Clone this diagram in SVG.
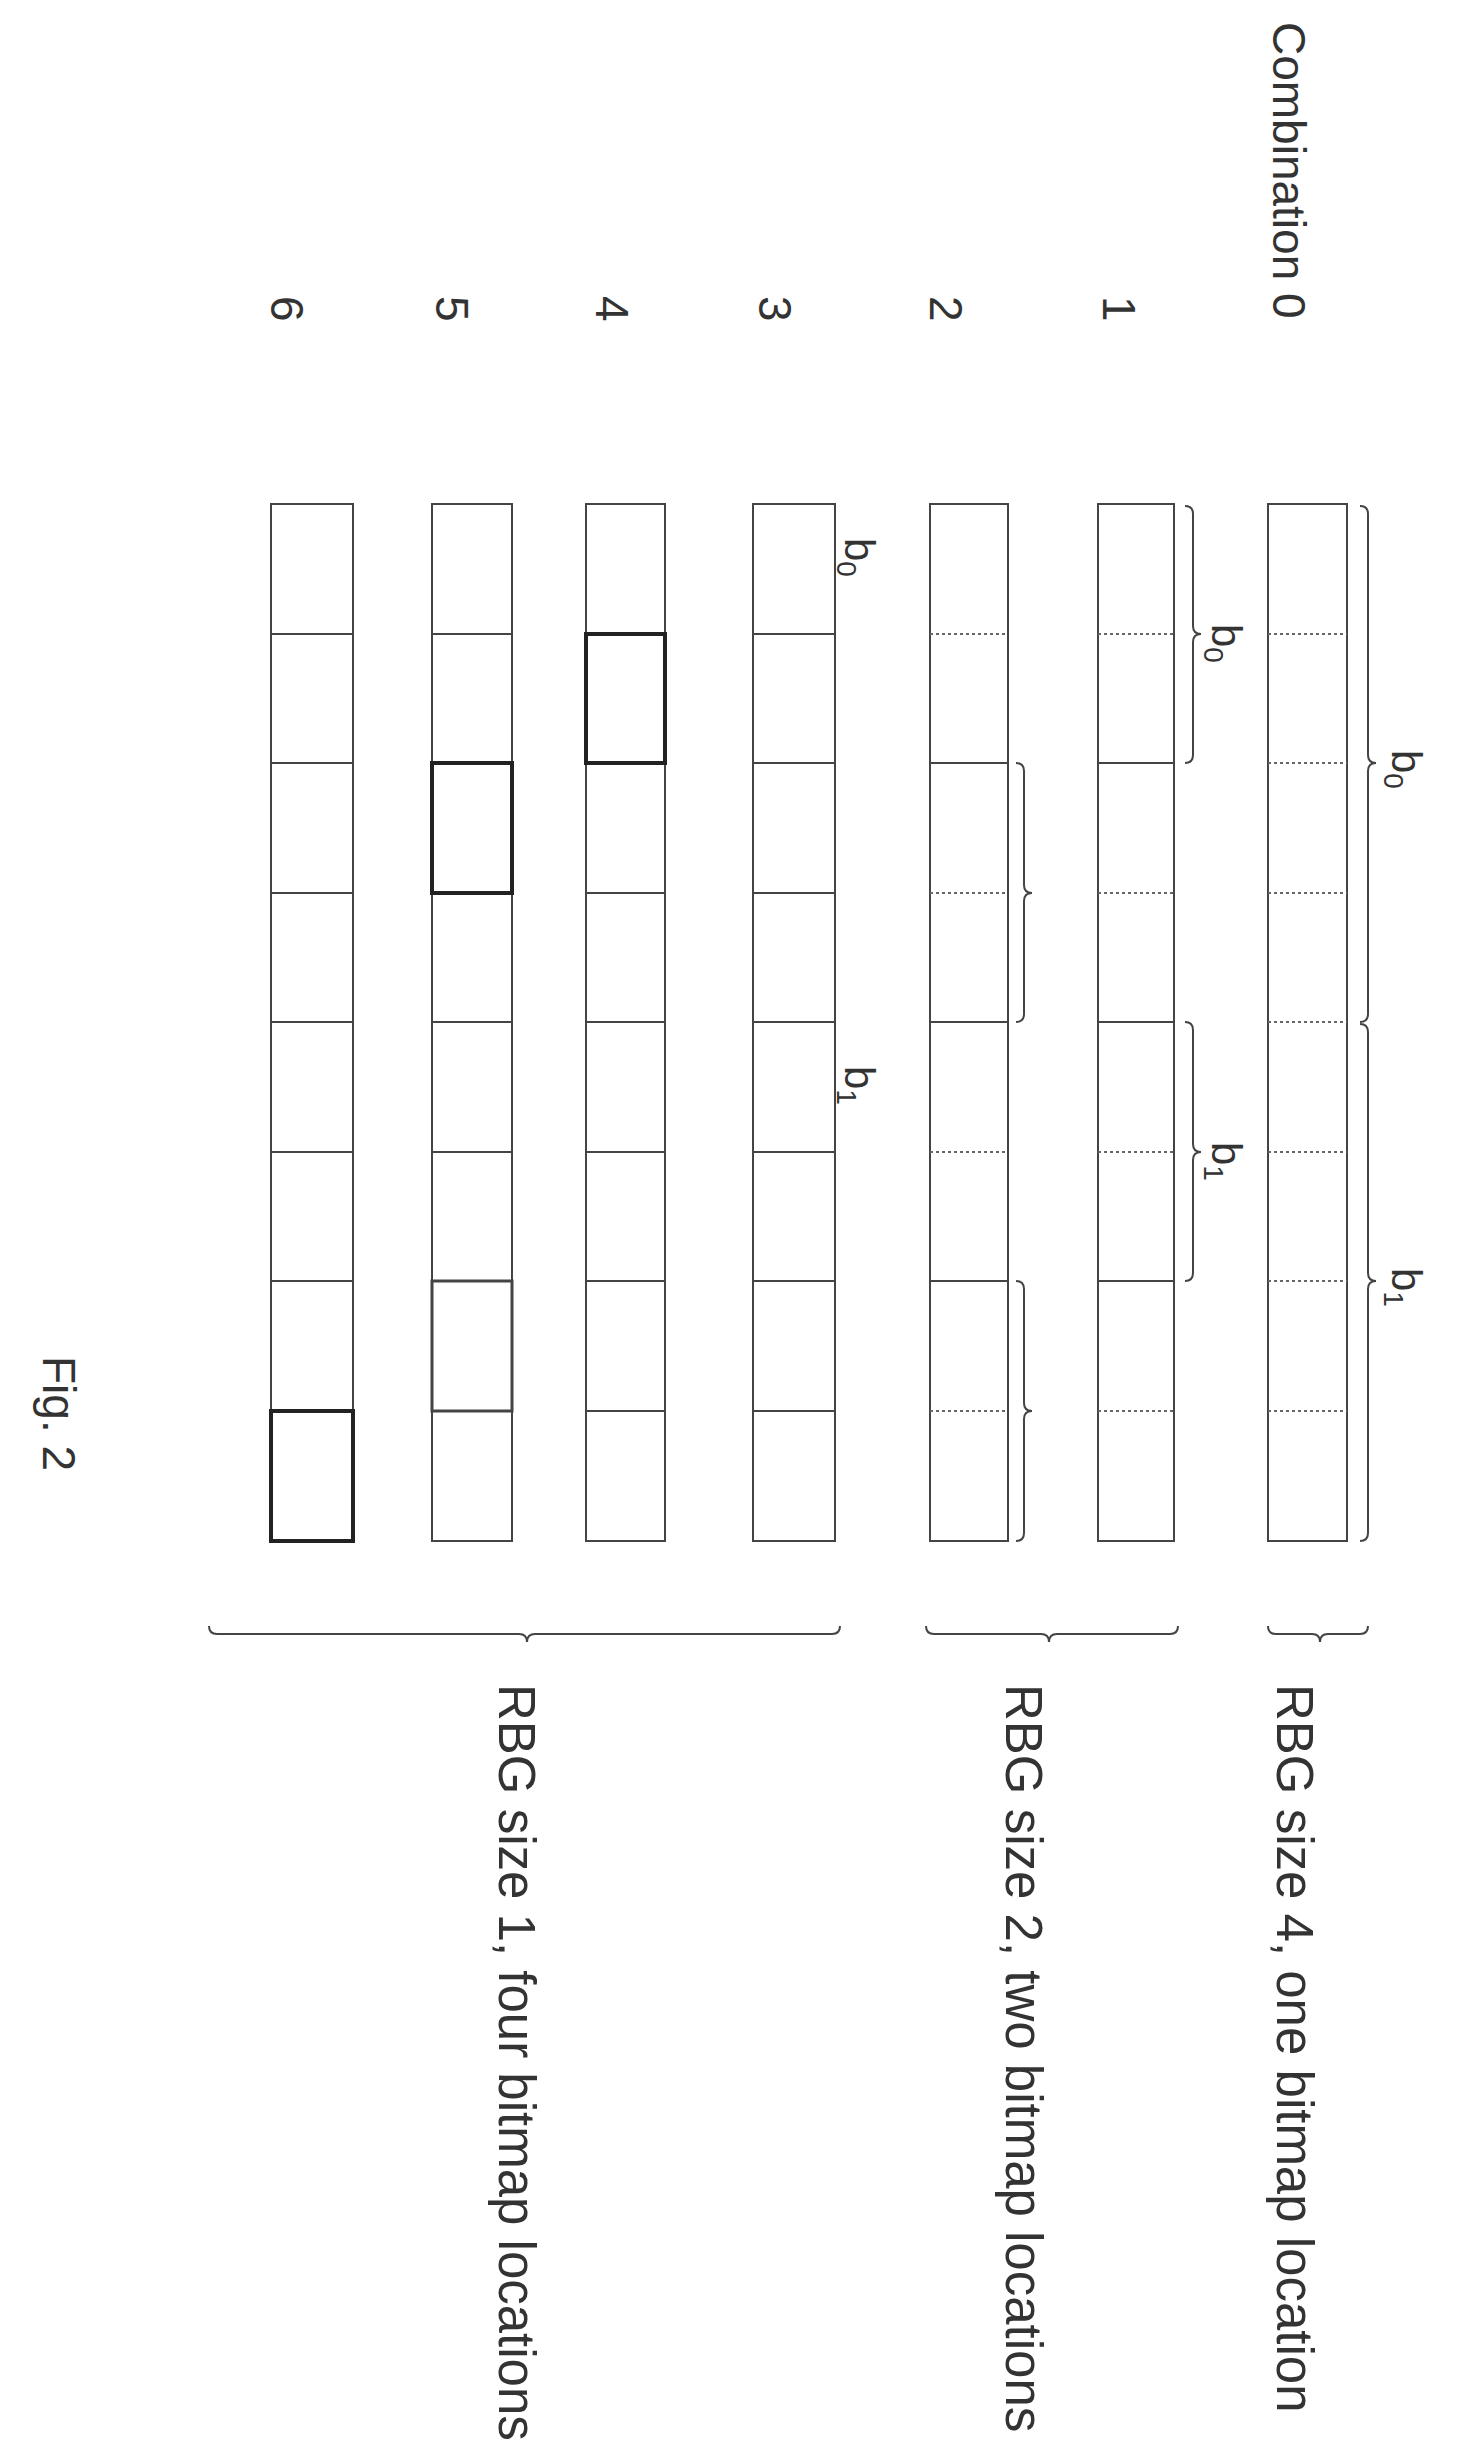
<svg xmlns="http://www.w3.org/2000/svg" width="1481" height="2454" viewBox="0 0 1481 2454">
<style>
.bar{fill:none;stroke:#444;stroke-width:2}
.sd{stroke:#444;stroke-width:2}
.dt{stroke:#666;stroke-width:2;stroke-dasharray:3 3}
.bold{fill:none;stroke:#222;stroke-width:4}
.br{fill:none;stroke:#444;stroke-width:2}
text{font-family:"Liberation Sans",Arial,sans-serif;fill:#333}
.lbl{font-size:46px}
.rbg{font-size:51px}
.b{font-size:42px}
</style>
<rect width="1481" height="2454" fill="#fff"/>
<g id="labels">
<text class="lbl" transform="translate(1273,22) rotate(90)">Combination 0</text>
<text class="lbl" transform="translate(1103,296) rotate(90)">1</text>
<text class="lbl" transform="translate(930,296) rotate(90)">2</text>
<text class="lbl" transform="translate(759,296) rotate(90)">3</text>
<text class="lbl" transform="translate(596,296) rotate(90)">4</text>
<text class="lbl" transform="translate(436,296) rotate(90)">5</text>
<text class="lbl" transform="translate(271,296) rotate(90)">6</text>
<text class="rbg" transform="translate(1277,1684) rotate(90)">RBG size 4, one bitmap location</text>
<text class="rbg" transform="translate(1006,1684) rotate(90)">RBG size 2, two bitmap locations</text>
<text class="rbg" transform="translate(499,1684) rotate(90)">RBG size 1, four bitmap locations</text>
<text class="lbl" transform="translate(43,1356) rotate(90)">Fig. 2</text>
</g>
<g id="row0">
<rect class="bar" x="1268" y="504" width="79" height="1037"/>
<line class="dt" x1="1268" y1="634" x2="1347" y2="634"/>
<line class="dt" x1="1268" y1="763" x2="1347" y2="763"/>
<line class="dt" x1="1268" y1="893" x2="1347" y2="893"/>
<line class="dt" x1="1268" y1="1022" x2="1347" y2="1022"/>
<line class="dt" x1="1268" y1="1152" x2="1347" y2="1152"/>
<line class="dt" x1="1268" y1="1281" x2="1347" y2="1281"/>
<line class="dt" x1="1268" y1="1411" x2="1347" y2="1411"/>
</g>
<g id="row1">
<rect class="bar" x="1098" y="504" width="76" height="1037"/>
<line class="dt" x1="1098" y1="634" x2="1174" y2="634"/>
<line class="sd" x1="1098" y1="763" x2="1174" y2="763"/>
<line class="dt" x1="1098" y1="893" x2="1174" y2="893"/>
<line class="sd" x1="1098" y1="1022" x2="1174" y2="1022"/>
<line class="dt" x1="1098" y1="1152" x2="1174" y2="1152"/>
<line class="sd" x1="1098" y1="1281" x2="1174" y2="1281"/>
<line class="dt" x1="1098" y1="1411" x2="1174" y2="1411"/>
</g>
<g id="row2">
<rect class="bar" x="930" y="504" width="78" height="1037"/>
<line class="dt" x1="930" y1="634" x2="1008" y2="634"/>
<line class="sd" x1="930" y1="763" x2="1008" y2="763"/>
<line class="dt" x1="930" y1="893" x2="1008" y2="893"/>
<line class="sd" x1="930" y1="1022" x2="1008" y2="1022"/>
<line class="dt" x1="930" y1="1152" x2="1008" y2="1152"/>
<line class="sd" x1="930" y1="1281" x2="1008" y2="1281"/>
<line class="dt" x1="930" y1="1411" x2="1008" y2="1411"/>
</g>
<g id="row3">
<rect class="bar" x="753" y="504" width="82" height="1037"/>
<path class="sd" d="M753 634H835M753 763H835M753 893H835M753 1022H835M753 1152H835M753 1281H835M753 1411H835"/>
</g>
<g id="row4">
<rect class="bar" x="586" y="504" width="79" height="1037"/>
<path class="sd" d="M586 634H665M586 763H665M586 893H665M586 1022H665M586 1152H665M586 1281H665M586 1411H665"/>
<rect class="bold" x="586" y="634" width="79" height="129"/>
</g>
<g id="row5">
<rect class="bar" x="432" y="504" width="80" height="1037"/>
<path class="sd" d="M432 634H512M432 763H512M432 893H512M432 1022H512M432 1152H512M432 1281H512M432 1411H512"/>
<rect class="bold" x="432" y="763" width="80" height="130"/>
<rect class="bar" x="432" y="1281" width="80" height="130" style="stroke-width:3"/>
</g>
<g id="row6">
<rect class="bar" x="271" y="504" width="82" height="1037"/>
<path class="sd" d="M271 634H353M271 763H353M271 893H353M271 1022H353M271 1152H353M271 1281H353M271 1411H353"/>
<rect class="bold" x="271" y="1411" width="82" height="130"/>
</g>
<g id="connectors">
<path class="br" d="M1360 506Q1368 506 1368 514V755Q1368 763 1376 763Q1368 763 1368 771V1014Q1368 1022 1360 1022"/>
<path class="br" d="M1360 1024Q1368 1024 1368 1032V1273Q1368 1281 1376 1281Q1368 1281 1368 1289V1533Q1368 1541 1360 1541"/>
<path class="br" d="M1185 506Q1193 506 1193 514V626Q1193 634 1201 634Q1193 634 1193 642V755Q1193 763 1185 763"/>
<path class="br" d="M1185 1022Q1193 1022 1193 1030V1144Q1193 1152 1201 1152Q1193 1152 1193 1160V1273Q1193 1281 1185 1281"/>
<path class="br" d="M1016 763Q1024 763 1024 771V885Q1024 893 1032 893Q1024 893 1024 901V1014Q1024 1022 1016 1022"/>
<path class="br" d="M1016 1281Q1024 1281 1024 1289V1403Q1024 1411 1032 1411Q1024 1411 1024 1419V1533Q1024 1541 1016 1541"/>
<path class="br" d="M1268 1626Q1268 1634 1276 1634H1312Q1320 1634 1320 1642Q1320 1634 1328 1634H1360Q1368 1634 1368 1626"/>
<path class="br" d="M926 1626Q926 1634 934 1634H1041Q1049 1634 1049 1642Q1049 1634 1057 1634H1170Q1178 1634 1178 1626"/>
<path class="br" d="M209 1626Q209 1634 217 1634H519Q527 1634 527 1642Q527 1634 535 1634H832Q840 1634 840 1626"/>
</g>
<g id="blabels">
<text class="b" transform="translate(1392,750) rotate(90)">b<tspan font-size="28" dy="8">0</tspan></text>
<text class="b" transform="translate(1392,1268) rotate(90)">b<tspan font-size="28" dy="8">1</tspan></text>
<text class="b" transform="translate(1212,624) rotate(90)">b<tspan font-size="28" dy="8">0</tspan></text>
<text class="b" transform="translate(1212,1142) rotate(90)">b<tspan font-size="28" dy="8">1</tspan></text>
<text class="b" transform="translate(845,538) rotate(90)">b<tspan font-size="28" dy="8">0</tspan></text>
<text class="b" transform="translate(845,1066) rotate(90)">b<tspan font-size="28" dy="8">1</tspan></text>
</g>
</svg>
